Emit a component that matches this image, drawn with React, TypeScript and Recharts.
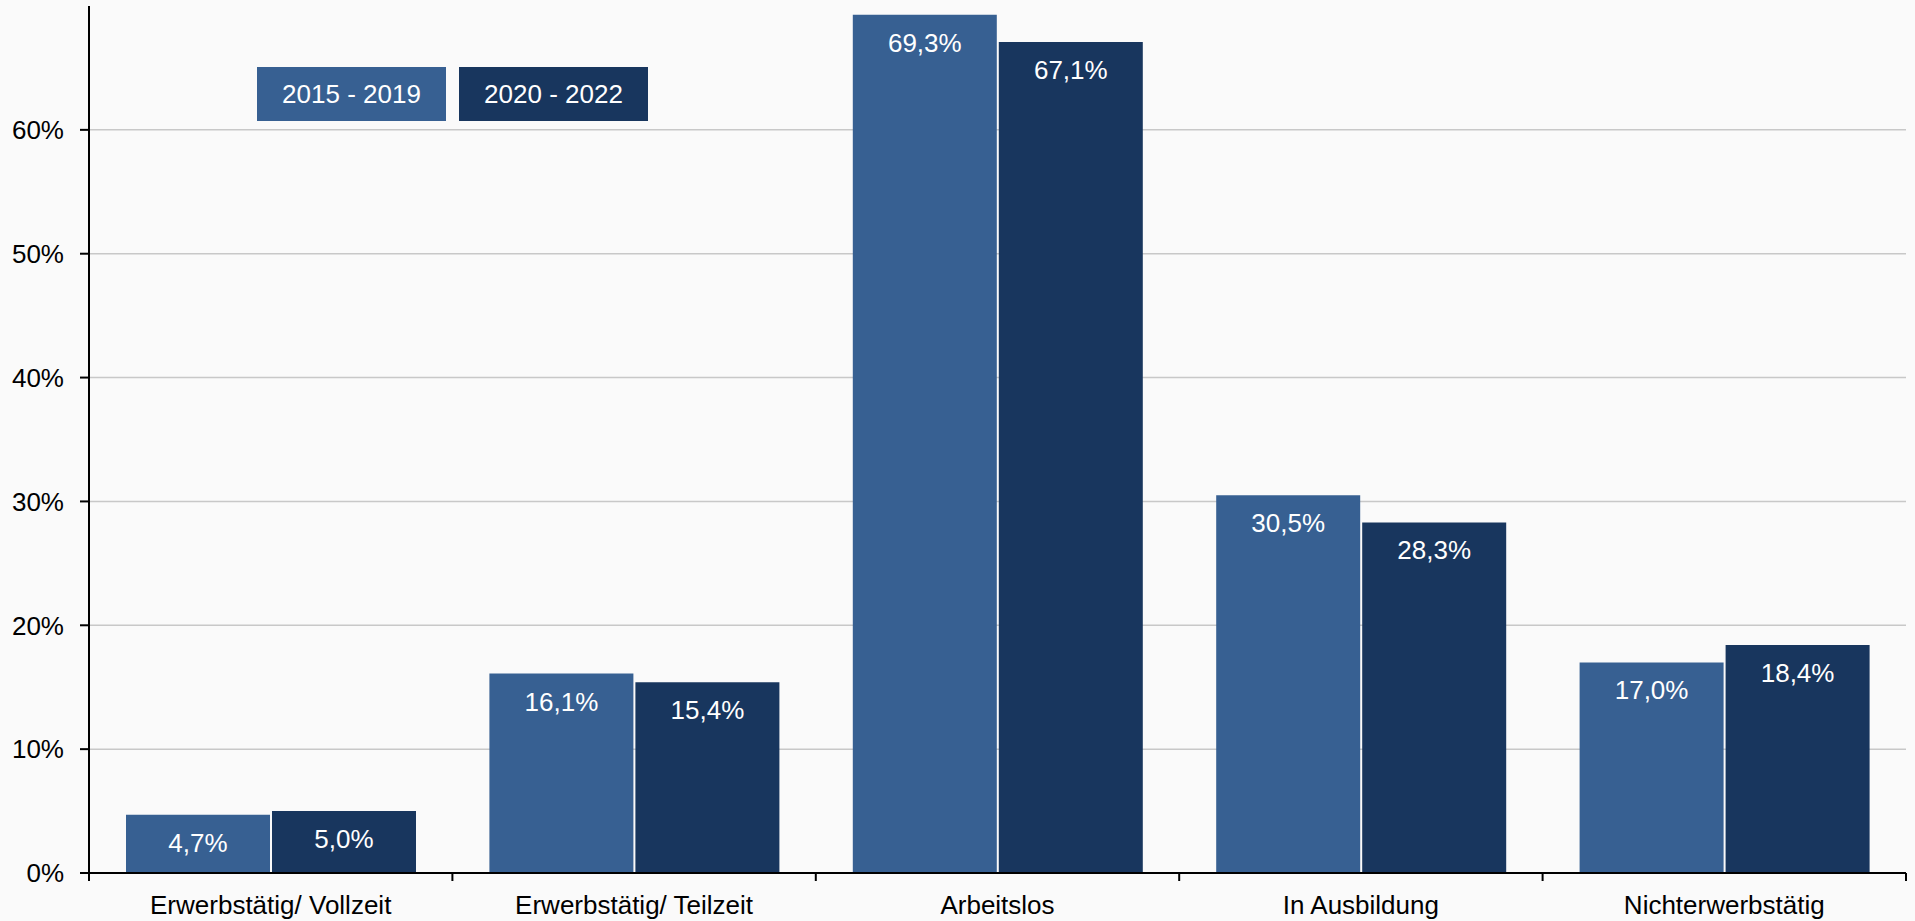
import { BarChart, Bar, XAxis, YAxis, CartesianGrid, LabelList } from "recharts";

const categories = ["Erwerbstätig/ Vollzeit", "Erwerbstätig/ Teilzeit", "Arbeitslos", "In Ausbildung", "Nichterwerbstätig"];
const series1Name = "2015 - 2019";
const series2Name = "2020 - 2022";
const series1 = [4.7, 16.1, 69.3, 30.5, 17.0];
const series2 = [5.0, 15.4, 67.1, 28.3, 18.4];
const yTicks = [0, 10, 20, 30, 40, 50, 60];

const COLORS = ["#376092", "#18365e"];
const FONT = '"Liberation Sans", Arial, sans-serif';

const rows = categories.map((name, i) => ({ name, s1: series1[i], s2: series2[i] }));

const fmt = (v: number) => v.toFixed(1).replace(".", ",") + "%";

function ValueLabel(props: any) {
  const { x, y, width, value } = props;
  return (
    <text
      x={Number(x) + Number(width) / 2}
      y={Number(y) + 28}
      textAnchor="middle"
      dominantBaseline="central"
      fill="#ffffff"
      fontSize={26}
      fontFamily={FONT}
    >
      {fmt(Number(value))}
    </text>
  );
}

function CategoryTick(props: any) {
  const { x, y, payload, index } = props;
  const half = payload?.offset ?? 181.7;
  return (
    <g>
      <line x1={x - half} x2={x - half} y1={y} y2={y + 8} stroke="#000" strokeWidth={2} />
      {index === categories.length - 1 && (
        <line x1={x + half} x2={x + half} y1={y} y2={y + 8} stroke="#000" strokeWidth={2} />
      )}
      <text x={x} y={y + 41} textAnchor="middle" fill="#000" fontSize={26} fontFamily={FONT}>
        {payload.value}
      </text>
    </g>
  );
}

export default function App() {
  const legend = [
    { name: series1Name, color: COLORS[0] },
    { name: series2Name, color: COLORS[1] },
  ];
  return (
    <div style={{ position: "fixed", top: 0, left: 0, width: 1915, height: 921, background: "#fafafa", fontFamily: FONT }}>
      <BarChart
        width={1915}
        height={921}
        data={rows}
        margin={{ top: 6, right: 9, bottom: 0, left: 0 }}
        barCategoryGap={37}
        barGap={2}
      >
        <CartesianGrid vertical={false} horizontalValues={yTicks} stroke="#c8c8c8" strokeWidth={1.5} />
        <XAxis
          dataKey="name"
          height={48}
          tick={<CategoryTick />}
          tickLine={false}
          tickSize={0}
          tickMargin={0}
          axisLine={{ stroke: "#000", strokeWidth: 2 }}
          interval={0}
        />
        <YAxis
          width={89}
          domain={[0, 70]}
          ticks={yTicks}
          tickFormatter={(v: number) => `${v}%`}
          tick={{ fill: "#000", fontSize: 26, fontFamily: FONT }}
          tickSize={9}
          tickMargin={16}
          tickLine={{ stroke: "#000", strokeWidth: 2 }}
          axisLine={{ stroke: "#000", strokeWidth: 2 }}
        />
        <Bar dataKey="s1" name={series1Name} fill={COLORS[0]} isAnimationActive={false}>
          <LabelList dataKey="s1" content={<ValueLabel />} />
        </Bar>
        <Bar dataKey="s2" name={series2Name} fill={COLORS[1]} isAnimationActive={false}>
          <LabelList dataKey="s2" content={<ValueLabel />} />
        </Bar>
      </BarChart>
      <div style={{ position: "absolute", top: 67, left: 257, display: "flex", gap: 13 }}>
        {legend.map((l) => (
          <div
            key={l.name}
            style={{
              background: l.color,
              color: "#fff",
              fontSize: 26,
              width: 189,
              height: 54,
              lineHeight: "54px",
              textAlign: "center",
              whiteSpace: "nowrap",
            }}
          >
            {l.name}
          </div>
        ))}
      </div>
    </div>
  );
}
